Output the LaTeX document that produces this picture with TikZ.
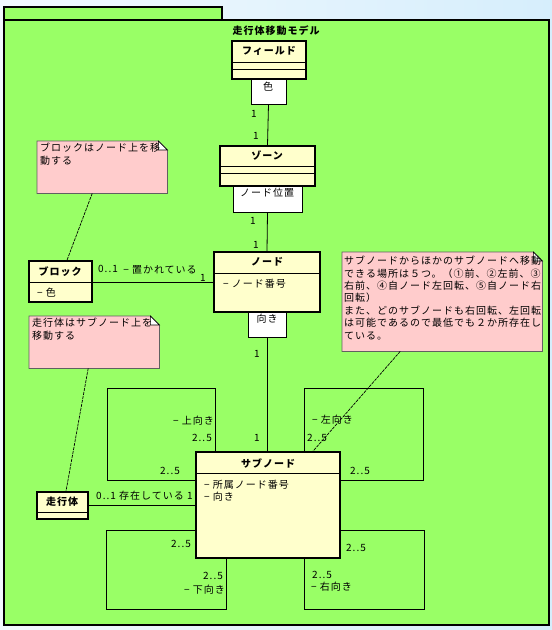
\documentclass[tikz,border=0pt]{standalone}
\usepackage{fontspec}
\setmainfont{Noto Sans CJK JP}[LetterSpace=10]
\newcommand{\jp}{\fontsize{10}{12.4}\selectfont}
\definecolor{pkggreen}{RGB}{153,255,102}
\definecolor{classfill}{RGB}{255,255,204}
\definecolor{notefill}{RGB}{255,204,204}
\definecolor{notedraw}{RGB}{96,96,96}
\definecolor{bgleft}{RGB}{242,249,254}
\definecolor{bgright}{RGB}{214,238,252}
\tikzset{
	lbl/.style={inner sep=0pt, font=\jp},
	cname/.style={inner sep=0pt, font=\jp\bfseries},
	umlclass/.style={draw, line width=1.6pt, fill=classfill, inner sep=0pt},
	rolebox/.style={draw, line width=0.8pt, fill=white, inner sep=0pt},
	noteshape/.style={inner sep=0pt},
	assoc/.style={line width=0.8pt},
	noteline/.style={line width=0.7pt, dash pattern=on 3pt off 1pt},
}
% note body with folded corner
\newcommand{\notefold}[1]{%
	\draw[notedraw, line width=0.8pt, fill=notefill] (#1.north west) -- ([xshift=-9pt]#1.north east) -- ([yshift=-9pt]#1.north east) -- (#1.south east) -- (#1.south west) -- cycle;
	\draw[line width=0.6pt, fill=white] ([xshift=-9pt]#1.north east) -- ([xshift=-9pt,yshift=-9pt]#1.north east) -- ([yshift=-9pt]#1.north east) -- cycle;}
\begin{document}
\begin{tikzpicture}[x=1pt,y=-1pt]
	\useasboundingbox (0,0) rectangle (552,630);
	\shade[left color=bgleft, right color=bgright] (0,0) rectangle (552,630);
	% package
	\draw[line width=1.6pt, fill=pkggreen] (4,7) rectangle (222,20);
	\draw[line width=1.8pt, fill=pkggreen] (4,20) rectangle (549,625);
	\node[cname] (title) at (276,31) {走行体移動モデル};

	% classes
	\node[umlclass, minimum width=74pt, minimum height=38pt] (field) at (269,60) {};
	\node[rolebox, minimum width=35pt, minimum height=25pt] (fieldrole) at (268.5,91.5) {};
	\node[umlclass, minimum width=95pt, minimum height=40pt] (zone) at (267.5,166) {};
	\node[rolebox, minimum width=69pt, minimum height=26pt] (zonerole) at (267.5,199) {};
	\node[umlclass, minimum width=106pt, minimum height=60pt] (node) at (267,282) {};
	\node[rolebox, minimum width=38pt, minimum height=25pt] (noderole) at (267,324.5) {};
	\node[umlclass, minimum width=63pt, minimum height=41pt] (block) at (60.5,281.5) {};
	\node[umlclass, minimum width=144pt, minimum height=106pt] (sub) at (268,505) {};
	\node[umlclass, minimum width=51pt, minimum height=27pt] (runner) at (62.5,505.5) {};

	% associations
	\draw[assoc] (fieldrole.south) -- (zone.north);
	\draw[assoc] (zonerole.south) -- (node.north);
	\draw[assoc] (noderole.south) -- (sub.north -| noderole.south);
	\draw[assoc] (block.east |- 0,282) -- (node.west |- 0,282);
	\draw[assoc] (runner.east) -- (sub.west |- runner.east);

	% self associations of sub
	\draw[assoc] (sub.west |- 0,480) -| (107,388) -| (sub.north -| 215,0);
	\draw[assoc] (sub.north -| 304,0) |- (423,388) |- (sub.east |- 0,480);
	\draw[assoc] (sub.west |- 0,530) -| (106,609) -| (sub.south -| 226,0);
	\draw[assoc] (sub.east |- 0,530) -| (424,609) -| (sub.south -| 304,0);

	% redraw classes over the lines
	\node[umlclass, minimum width=144pt, minimum height=106pt] at (sub) {};
	\draw[line width=0.6pt] (field.west |- 0,62) -- (field.east |- 0,62);
	\draw[line width=0.6pt] (field.west |- 0,69) -- (field.east |- 0,69);
	\draw[line width=0.6pt] (zone.west |- 0,166) -- (zone.east |- 0,166);
	\draw[line width=0.6pt] (zone.west |- 0,173) -- (zone.east |- 0,173);
	\draw[line width=0.6pt] (node.west |- 0,273) -- (node.east |- 0,273);
	\draw[line width=0.6pt] (block.west |- 0,282) -- (block.east |- 0,282);
	\draw[line width=0.6pt] (sub.west |- 0,473) -- (sub.east |- 0,473);
	\draw[line width=0.6pt] (runner.west |- 0,512) -- (runner.east |- 0,512);

	% class texts
	\node[cname] (fieldname) at (269,51) {フィールド};
	\node[lbl] (fieldcolor) at (268,87) {色};
	\node[cname] (zonename) at (267,156) {ゾーン};
	\node[lbl] (zonepos) at (267,193) {ノード位置};
	\node[cname] (nodename) at (267,262) {ノード};
	\node[lbl, anchor=west] (nodeno) at (223,284) {− ノード番号};
	\node[lbl] (nodedir) at (267,319) {向き};
	\node[cname] (blockname) at (60,272) {ブロック};
	\node[lbl, anchor=west] (blockcolor) at (37,293) {− 色};
	\node[cname] (subname) at (268,463) {サブノード};
	\node[lbl, anchor=west] (subno) at (204,485) {− 所属ノード番号};
	\node[lbl, anchor=west] (subdir) at (204,497) {− 向き};
	\node[cname] (runnername) at (62,502) {走行体};

	% multiplicities and roles
	\node[lbl] (m1) at (254,114) {1};
	\node[lbl] (m2) at (256,136) {1};
	\node[lbl] (m3) at (253,221) {1};
	\node[lbl] (m4) at (256,245) {1};
	\node[lbl] (m5) at (257,354) {1};
	\node[lbl] (m6) at (257,438) {1};
	\node[lbl] (m7) at (108,269) {0..1};
	\node[lbl] (placed) at (160,270) {− 置かれている};
	\node[lbl] (m8) at (203,278) {1};
	\node[lbl, anchor=west] (exists) at (96,496) {0..1 存在している 1};
	\node[lbl, anchor=east] (up) at (214,421) {− 上向き};
	\node[lbl, anchor=east] (m9) at (212,438) {2..5};
	\node[lbl] (m10) at (170,471) {2..5};
	\node[lbl, anchor=west] (left) at (312,420) {− 左向き};
	\node[lbl, anchor=west] (m11) at (307,438) {2..5};
	\node[lbl] (m12) at (360,471) {2..5};
	\node[lbl] (m13) at (181,544) {2..5};
	\node[lbl] (m14) at (213,576) {2..5};
	\node[lbl, anchor=east] (down) at (225,590) {− 下向き};
	\node[lbl] (m15) at (356,548) {2..5};
	\node[lbl, anchor=west] (m16) at (312,575) {2..5};
	\node[lbl, anchor=west] (right) at (311,587) {− 右向き};

	% notes
	\node[noteshape, minimum width=130pt, minimum height=52pt, anchor=north west] (note1) at (37,141) {};
	\node[noteshape, minimum width=130pt, minimum height=52pt, anchor=north west] (note2) at (29,316) {};
	\node[noteshape, minimum width=200pt, minimum height=99pt, anchor=north west] (note3) at (342,252) {};
	\notefold{note1}
	\notefold{note2}
	\notefold{note3}
	\node[lbl, align=left, anchor=north west] (note1text) at ([xshift=3pt,yshift=-2pt]note1.north west) {ブロックはノード上を移\\動する};
	\node[lbl, align=left, anchor=north west] (note2text) at ([xshift=3pt,yshift=-2pt]note2.north west) {走行体はサブノード上を\\移動する};
	\node[lbl, align=left, anchor=north west] (note3text) at ([xshift=2pt,yshift=-4pt]note3.north west) {サブノードからほかのサブノードへ移動\\できる場所は５つ。（①前、②左前、③\\右前、④自ノード左回転、⑤自ノード右\\回転）\\また、どのサブノードも右回転、左回転\\は可能であるので最低でも２か所存在し\\ている。};
	\draw[noteline] ([xshift=-10pt]note1.south) -- ([xshift=6.5pt]block.north);
	\draw[noteline] ([xshift=-6pt]note2.south) -- ([xshift=3.5pt]runner.north);
	\draw[noteline] ([xshift=-42pt]note3.south) -- ([xshift=45pt]sub.north);
\end{tikzpicture}
\end{document}
